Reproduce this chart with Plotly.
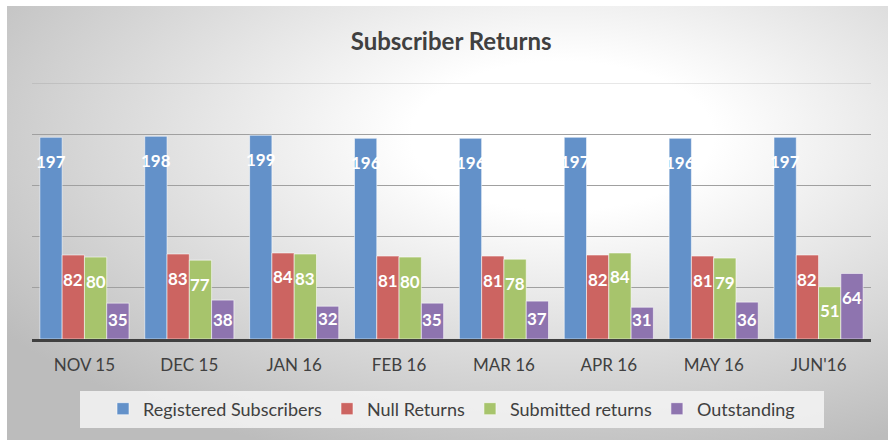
import base64
import plotly.graph_objects as go

months = ["NOV 15", "DEC 15", "JAN 16", "FEB 16", "MAR 16", "APR 16", "MAY 16", "JUN'16"]
registered = [197, 198, 199, 196, 196, 197, 196, 197]
null_returns = [82, 83, 84, 81, 81, 82, 81, 82]
submitted = [80, 77, 83, 80, 78, 84, 79, 51]
outstanding = [35, 38, 32, 35, 37, 31, 36, 64]

series_names = ["Registered Subscribers", "Null Returns", "Submitted returns", "Outstanding"]
series_values = [registered, null_returns, submitted, outstanding]
colors = ["#6391C9", "#CC6461", "#A7C46C", "#8E74AF"]

W, H = 888, 440
ML, MR, MT, MB = 32, 17, 83, 101
PW, PH = W - ML - MR, H - MT - MB
YMAX = 250
BARGAP = 0.15
FONT = "Lato"

# radial gradient background as an inline SVG image
svg = f'''<svg xmlns="http://www.w3.org/2000/svg" width="{W}" height="{H}">
<defs><radialGradient id="g" cx="0.63" cy="0.3" r="0.78">
<stop offset="0" stop-color="#FFFFFF"/><stop offset="0.22" stop-color="#FFFFFF"/>
<stop offset="1" stop-color="#BCBCBC"/></radialGradient></defs>
<rect width="{W}" height="{H}" fill="#FFFFFF"/>
<rect x="7" y="6" width="{W-7}" height="{H-6}" fill="url(#g)"/>
</svg>'''
src = "data:image/svg+xml;base64," + base64.b64encode(svg.encode()).decode()

fig = go.Figure()
for name, vals, col in zip(series_names, series_values, colors):
    fig.add_trace(go.Bar(
        x=months, y=vals, name=name,
        marker=dict(color=col, line=dict(color="rgba(255,255,255,0.55)", width=1)),
        hoverinfo="x+y+name",
    ))

# data labels
n = len(series_names)
bw = (1 - BARGAP) / n
px_per_unit = PH / YMAX
annotations = []
for k, vals in enumerate(series_values):
    off = -(1 - BARGAP) / 2 + (k + 0.5) * bw
    for i, v in enumerate(vals):
        shift = min(24, v * px_per_unit - 20)
        annotations.append(dict(
            x=i + off, y=v, xref="x", yref="y", text=str(v), showarrow=False,
            yshift=-shift, yanchor="middle", xanchor="center",
            font=dict(family=FONT, size=17, color="white", weight="bold"),
        ))

fig.update_layout(
    width=W, height=H,
    margin=dict(l=ML, r=MR, t=MT, b=MB),
    paper_bgcolor="white", plot_bgcolor="rgba(0,0,0,0)",
    barmode="group", bargap=BARGAP, bargroupgap=0,
    title=dict(text="<b>Subscriber Returns</b>", x=0.508, xanchor="center",
               y=1 - 42 / H, yanchor="middle", yref="container",
               font=dict(family=FONT, size=24, color="#404040")),
    font=dict(family=FONT, color="#404040"),
    xaxis=dict(showline=True, linecolor="#404040", linewidth=3,
               ticks="outside", ticklen=9, tickcolor="rgba(0,0,0,0)",
               tickfont=dict(family=FONT, size=17, color="#404040"),
               showgrid=False),
    yaxis=dict(range=[0, YMAX], tickvals=[50, 100, 150, 200], showticklabels=False,
               gridcolor="#A0A0A0", gridwidth=1, zeroline=False),
    showlegend=True,
    legend=dict(orientation="h", x=0.5, xanchor="center",
                y=-(409 - (MT + PH)) / PH, yanchor="middle",
                bgcolor="rgba(0,0,0,0)", font=dict(family=FONT, size=18, color="#404040"),
                itemwidth=30),
    annotations=annotations,
    images=[dict(source=src, xref="paper", yref="paper",
                 x=-ML / PW, y=1 + MT / PH, sizex=W / PW, sizey=H / PH,
                 xanchor="left", yanchor="top", sizing="stretch", layer="below")],
    shapes=[
        dict(type="rect", xref="paper", yref="paper",
             x0=(80 - ML) / PW, x1=(824 - ML) / PW,
             y0=-(428 - MT - PH) / PH, y1=-(391 - MT - PH) / PH,
             fillcolor="rgba(244,244,244,0.85)", line=dict(width=0), layer="below"),
        # faint top gridline at the axis maximum
        dict(type="line", xref="paper", yref="y", x0=0, x1=1, y0=YMAX, y1=YMAX,
             line=dict(color="rgba(110,110,110,0.22)", width=1.5), layer="below"),
    ],
)

fig.write_html("out.html", config={"displayModeBar": False},
               post_script="document.body.style.margin='0';")
